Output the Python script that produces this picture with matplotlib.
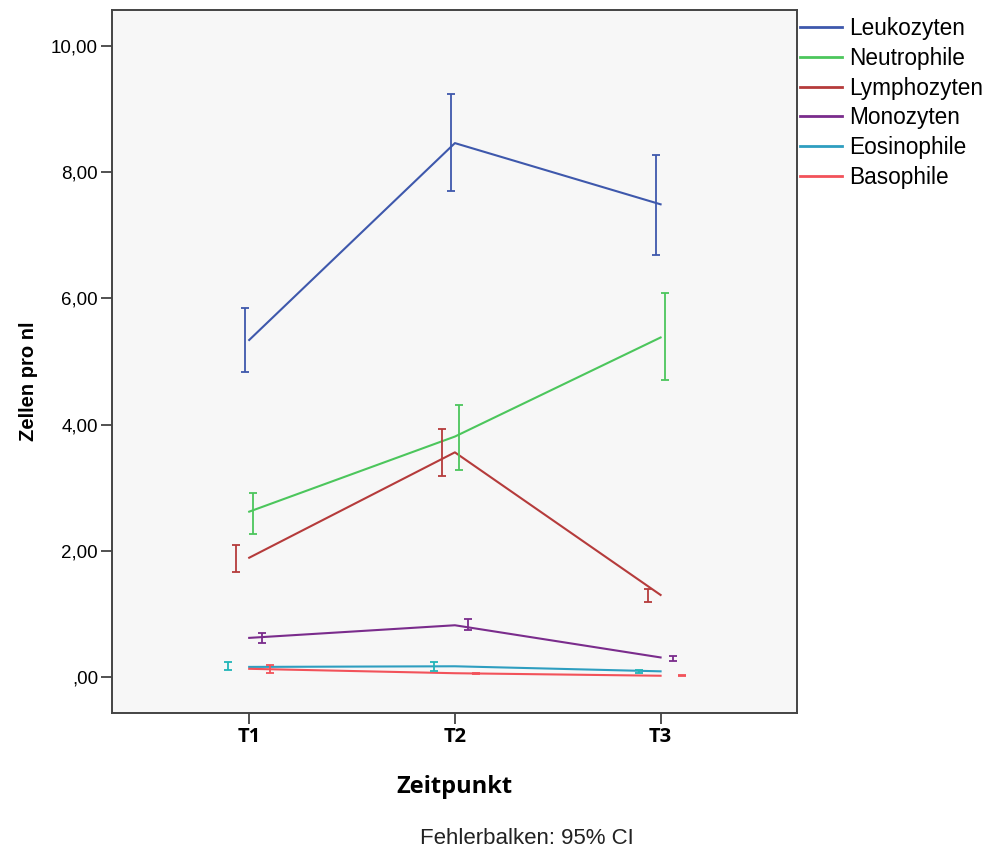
import matplotlib
matplotlib.use("Agg")
import matplotlib.pyplot as plt
import numpy as np

TIMEPOINTS = ["T1", "T2", "T3"]
SERIES = ["Leukozyten", "Neutrophile", "Lymphozyten", "Monozyten", "Eosinophile", "Basophile"]

leuko_mean = [5.34, 8.46, 7.49]
leuko_lo = [4.84, 7.70, 6.69]
leuko_hi = [5.85, 9.24, 8.27]

neutro_mean = [2.62, 3.81, 5.38]
neutro_lo = [2.27, 3.28, 4.71]
neutro_hi = [2.92, 4.31, 6.08]

lympho_mean = [1.89, 3.56, 1.30]
lympho_lo = [1.67, 3.19, 1.19]
lympho_hi = [2.09, 3.93, 1.39]

mono_mean = [0.62, 0.82, 0.31]
mono_lo = [0.54, 0.75, 0.26]
mono_hi = [0.70, 0.92, 0.34]

eosino_mean = [0.16, 0.17, 0.09]
eosino_lo = [0.11, 0.10, 0.07]
eosino_hi = [0.23, 0.23, 0.11]

baso_mean = [0.13, 0.06, 0.02]
baso_lo = [0.07, 0.04, 0.01]
baso_hi = [0.19, 0.07, 0.03]

COLORS = {
    "Leukozyten":  "#3E58AC",
    "Neutrophile": "#4CC65C",
    "Lymphozyten": "#B53B3B",
    "Monozyten":   "#7A2C8C",
    "Eosinophile": "#2E9EC0",
    "Basophile":   "#F2525A",
}
ERR_COLORS = dict(COLORS, Eosinophile="#22B5B8")

# horizontal dodge of the error bars (category units)
DODGE = {
    "Eosinophile": -2.5, "Lymphozyten": -1.5, "Leukozyten": -0.5,
    "Neutrophile": 0.5, "Monozyten": 1.5, "Basophile": 2.5,
}
STEP = 0.0413

data = {
    "Leukozyten": (leuko_mean, leuko_lo, leuko_hi),
    "Neutrophile": (neutro_mean, neutro_lo, neutro_hi),
    "Lymphozyten": (lympho_mean, lympho_lo, lympho_hi),
    "Monozyten": (mono_mean, mono_lo, mono_hi),
    "Eosinophile": (eosino_mean, eosino_lo, eosino_hi),
    "Basophile": (baso_mean, baso_lo, baso_hi),
}

fig = plt.figure(figsize=(9.85, 8.5), dpi=100)
ax = fig.add_axes([0.1137, 0.1612, 0.6954, 0.8271])
ax.set_facecolor("#F7F7F7")

x = np.arange(len(TIMEPOINTS))
for name in SERIES:
    mean, lo, hi = (np.array(v) for v in data[name])
    ax.plot(x, mean, color=COLORS[name], linewidth=1.5, label=name, zorder=3)
    xe = x + DODGE[name] * STEP
    ax.errorbar(xe, mean, yerr=[mean - lo, hi - mean], fmt="none",
                ecolor=ERR_COLORS[name], elinewidth=1.3, capsize=3, capthick=1.3, zorder=4)

ax.set_xlim(-0.667, 2.663)
ax.set_ylim(-0.57, 10.57)
ax.set_xticks(x)
ax.set_xticklabels(TIMEPOINTS, fontfamily="Open Sans", fontweight="bold", fontsize=14.5)
yticks = [0, 2, 4, 6, 8, 10]
ax.set_yticks(yticks)
ax.set_yticklabels([",00" if v == 0 else f"{v:.2f}".replace(".", ",") for v in yticks],
                   fontfamily="Liberation Sans", fontsize=13.5)
ax.tick_params(axis="both", length=8, width=1.2, color="#333333", pad=2)

for s in ax.spines.values():
    s.set_color("#444444")
    s.set_linewidth(1.4)

ax.set_xlabel("Zeitpunkt", fontfamily="Open Sans", fontweight="bold", fontsize=17, labelpad=20)
ax.set_ylabel("Zellen pro nl", fontfamily="Liberation Sans", fontweight="bold", fontsize=14.5)
ax.yaxis.set_label_coords(-0.108, 0.472)

fig.text(0.535, 1 - 839 / 850, "Fehlerbalken: 95% CI", ha="center", va="center",
         fontfamily="Liberation Sans", fontsize=16, color="#222222")

leg = fig.legend(loc="upper left", bbox_to_anchor=(800 / 985, 1 - 17 / 850), frameon=True,
                 prop={"family": "Liberation Sans", "size": 16.3},
                 handlelength=1.85, handletextpad=0.3, labelspacing=0.3, borderpad=0.0,
                 borderaxespad=0.0)
leg.get_frame().set_facecolor("white")
leg.get_frame().set_edgecolor("white")
for line in leg.get_lines():
    line.set_linewidth(2.0)

fig.savefig("out.png", dpi=100)
